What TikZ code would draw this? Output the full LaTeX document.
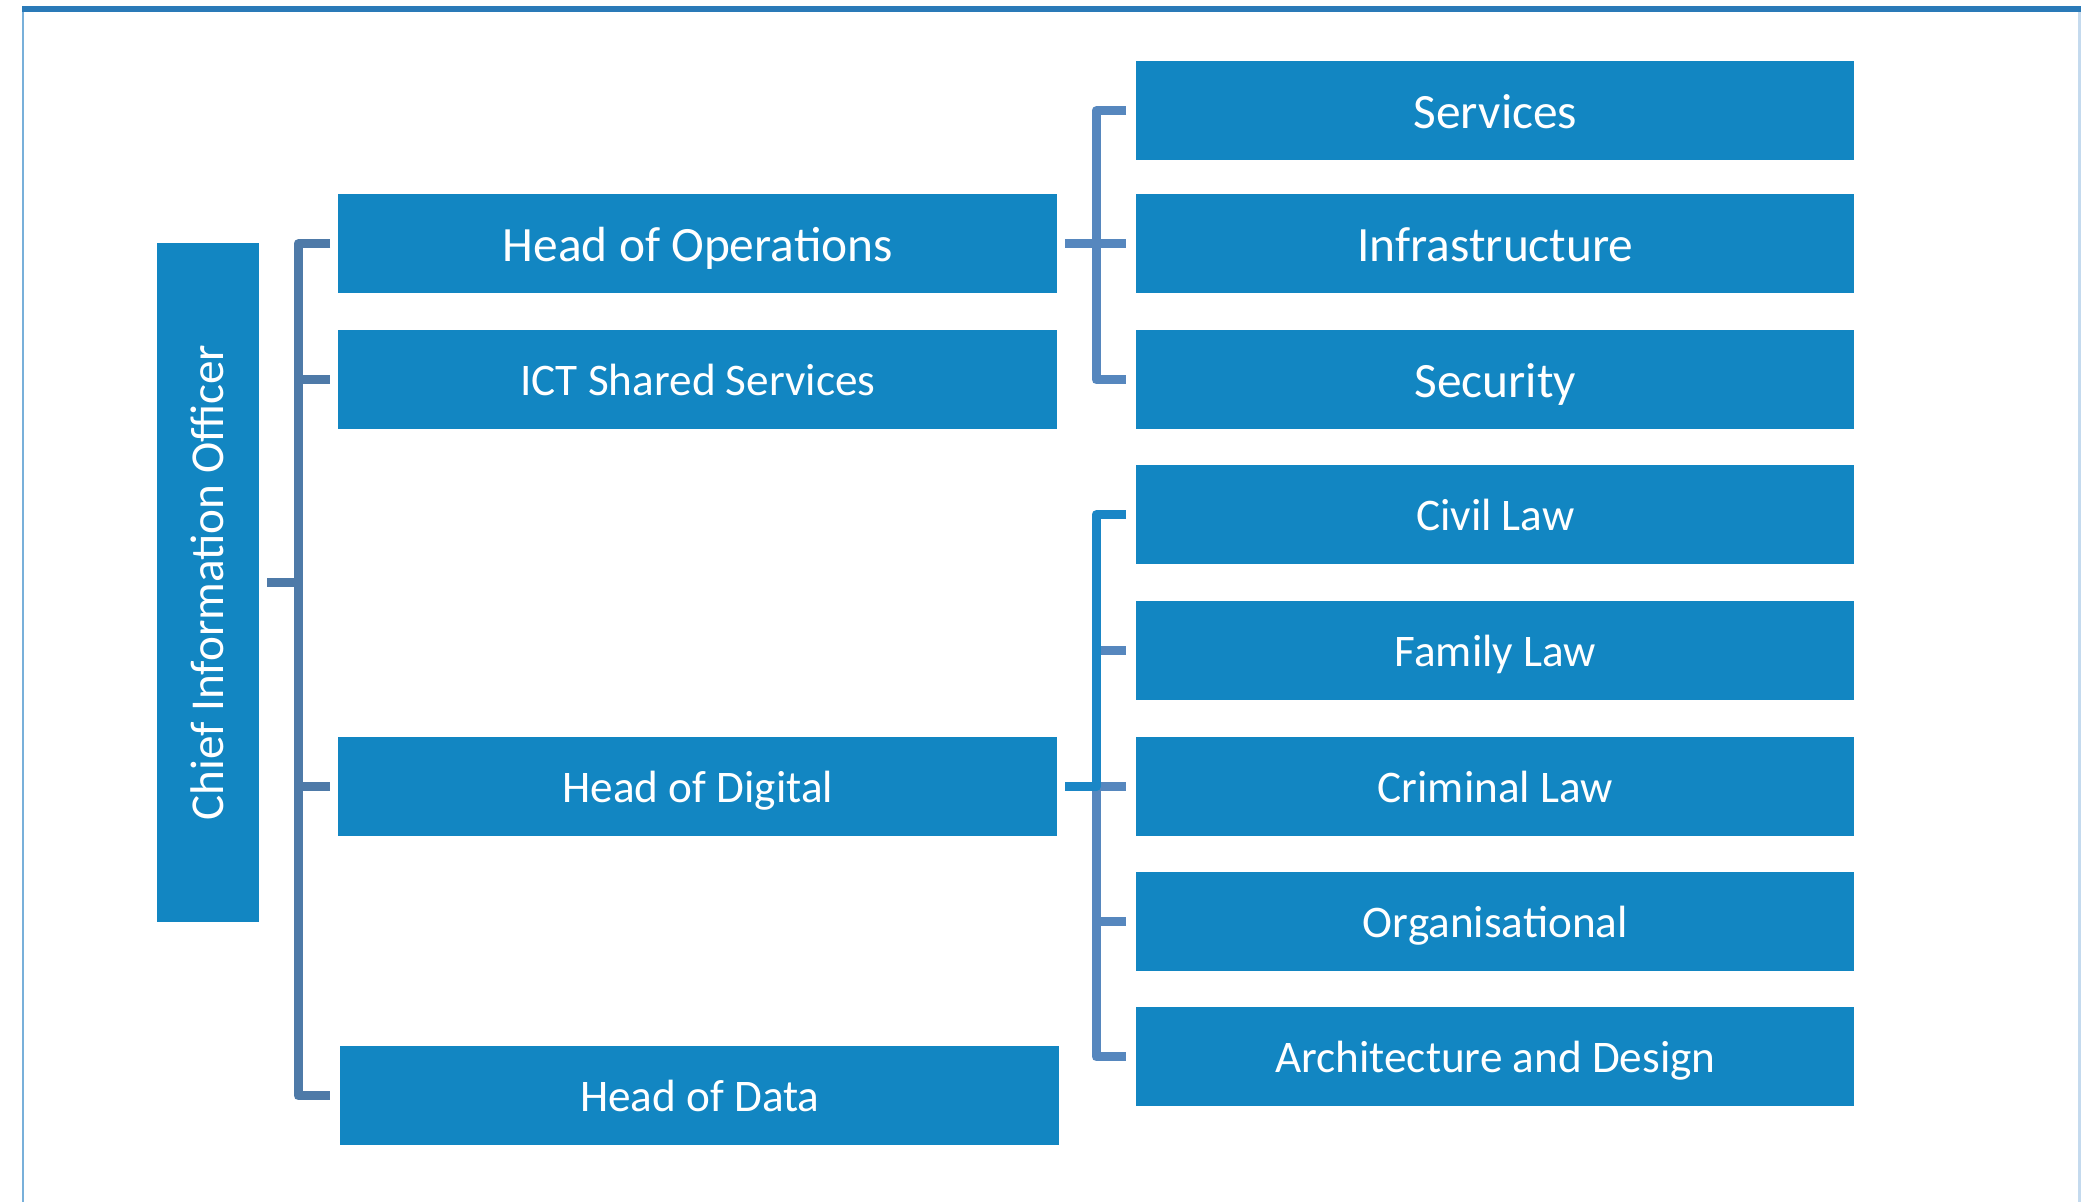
\documentclass[tikz,border=0pt]{standalone}
\usepackage{fontspec}
\setmainfont{Carlito}
\usetikzlibrary{calc}
\definecolor{boxblue}{RGB}{18,134,194}
\definecolor{lnleft}{RGB}{78,122,168}
\definecolor{lnright}{RGB}{86,135,190}
\definecolor{lnbright}{RGB}{26,134,198}
\definecolor{framedark}{RGB}{42,122,184}
\definecolor{frameleft}{RGB}{120,176,218}
\definecolor{frameright}{RGB}{196,218,238}
\begin{document}
\begin{tikzpicture}[x=0.5pt,y=-0.5pt,
  orgbox/.style={fill=boxblue, text=white, inner sep=0pt, anchor=north west, text depth=0pt},
  lone/.style={orgbox, minimum width=359.5pt, minimum height=49.5pt},
  ltwo/.style={orgbox, minimum width=359pt, minimum height=49.5pt},
  bigtext/.style={font=\fontsize{24.7}{29}\selectfont, text height=17.5pt},
  smalltext/.style={font=\fontsize{22.6}{27}\selectfont, text height=15.3pt},
  conn/.style={line width=4.5pt, line join=round}]
\useasboundingbox (0,0) rectangle (2098,1202);
% frame
\draw[frameleft, line width=1.25pt] (23,9) -- (23,1202);
\draw[frameright, line width=1.5pt] (2079,9) -- (2079,1202);
\draw[framedark, line width=3pt] (22,9) -- (2081,9);
% chief
\node[orgbox, anchor=center, rotate=90, minimum width=339.5pt, minimum height=51pt,
      font=\fontsize{23.6}{28}\selectfont, text height=15.2pt] (cio) at (208,582.5) {Chief Information Officer};
% level 1
\node[lone, bigtext] (ops) at (338,194) {Head of Operations};
\node[lone, smalltext] (ict) at (338,330) {ICT Shared Services};
\node[lone, smalltext] (digital) at (338,737) {Head of Digital};
\node[lone, smalltext] (data) at (340,1046) {Head of Data};
% level 2
\node[ltwo, bigtext] (services) at (1136,61) {Services};
\node[ltwo, bigtext] (infra) at (1136,194) {Infrastructure};
\node[ltwo, bigtext] (security) at (1136,330) {Security};
\node[ltwo, smalltext] (civil) at (1136,465) {Civil Law};
\node[ltwo, smalltext] (family) at (1136,601) {Family Law};
\node[ltwo, smalltext] (criminal) at (1136,737) {Criminal Law};
\node[ltwo, smalltext] (org) at (1136,872) {Organisational};
\node[ltwo, smalltext] (arch) at (1136,1007) {Architecture and Design};
% left bracket
\coordinate (lv) at ($(ops.west)+(-40,0)$);
\draw[conn, lnleft] ($(ops.west)+(-8,0)$) -- (lv) |- ($(data.west)+(-10,0)$);
\draw[conn, lnleft] (lv |- ict.west) -- ($(ict.west)+(-8,0)$);
\draw[conn, lnleft] (lv |- digital.west) -- ($(digital.west)+(-8,0)$);
\draw[conn, lnleft] ($(cio.south)+(8,0)$) -- (lv |- cio.south);
% upper right bracket
\coordinate (rv1) at ($(services.west)+(-40,0)$);
\draw[conn, lnright] ($(services.west)+(-10,0)$) -- (rv1) |- ($(security.west)+(-10,0)$);
\draw[conn, lnright] ($(ops.east)+(7,0)$) -- ($(infra.west)+(-10,0)$);
% lower right bracket
\coordinate (rv2) at ($(civil.west)+(-40,0)$);
\draw[conn, lnright] (rv2 |- digital.east) |- ($(arch.west)+(-10,0)$);
\draw[conn, lnright] (rv2 |- family.west) -- ($(family.west)+(-10,0)$);
\draw[conn, lnright] (rv2 |- criminal.west) -- ($(criminal.west)+(-10,0)$);
\draw[conn, lnright] (rv2 |- org.west) -- ($(org.west)+(-10,0)$);
\draw[conn, lnbright] ($(civil.west)+(-10,0)$) -- (rv2) -- (rv2 |- digital.east) -- ($(digital.east)+(7,0)$);
\end{tikzpicture}
\end{document}
